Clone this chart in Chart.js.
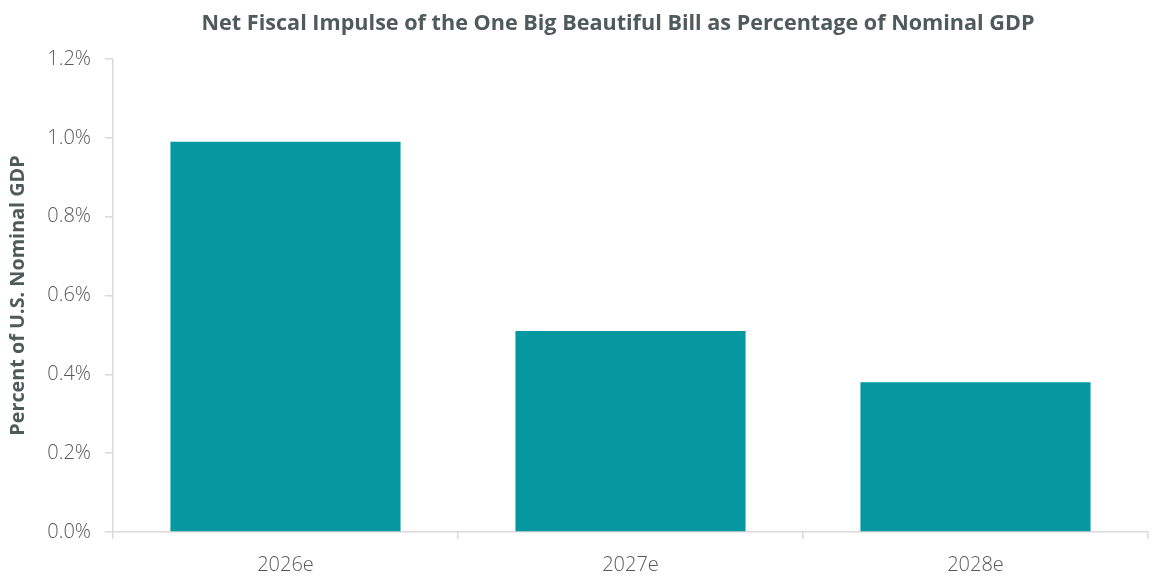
<!DOCTYPE html>
<html>
<head>
<meta charset="utf-8">
<script src="https://cdn.jsdelivr.net/npm/chart.js@4/dist/chart.umd.min.js"></script>
<style>
  html, body { margin: 0; padding: 0; background: #ffffff; }
  #wrap { width: 1152px; height: 577px; position: relative; }
</style>
</head>
<body>
<div id="wrap"><canvas id="c" width="1152" height="577"></canvas></div>
<script>
const categories = ["2026e", "2027e", "2028e"];
const impulseValues = [0.99, 0.51, 0.38];
const yTickValues = [0.0, 0.2, 0.4, 0.6, 0.8, 1.0, 1.2];
const chartTitle = "Net Fiscal Impulse of the One Big Beautiful Bill as Percentage of Nominal GDP";
const yAxisTitle = "Percent of U.S. Nominal GDP";

const axisColor = "#d9d9d9";
const textColor = "#595959";
const titleColor = "#4f5b5b";

const titlePlugin = {
  id: "customTitle",
  afterDraw(chart) {
    const ctx = chart.ctx;
    ctx.save();
    ctx.font = "bold 21.6px 'Open Sans'";
    ctx.fillStyle = titleColor;
    ctx.textAlign = "center";
    ctx.textBaseline = "middle";
    ctx.fillText(chartTitle, 618, 24);
    ctx.restore();
  }
};

new Chart(document.getElementById("c"), {
  type: "bar",
  data: {
    labels: categories,
    datasets: [{
      data: impulseValues,
      backgroundColor: "#0598a0",
      borderWidth: 0,
      categoryPercentage: 1.0,
      barPercentage: 0.667
    }]
  },
  options: {
    responsive: false,
    animation: false,
    devicePixelRatio: 1,
    layout: { padding: { top: 59, right: 4, left: 0, bottom: 0 } },
    plugins: {
      legend: { display: false },
      title: { display: false },
      tooltip: { enabled: false }
    },
    scales: {
      x: {
        grid: {
          offset: true,
          drawOnChartArea: false,
          drawTicks: true,
          tickLength: 7,
          color: axisColor,
          lineWidth: 1.5
        },
        border: { color: axisColor, width: 1.5 },
        ticks: {
          color: textColor,
          font: { family: "'Open Sans'", size: 20, weight: 300 },
          padding: 14
        },
        afterFit(scale) { scale.height = 45; }
      },
      y: {
        min: 0,
        max: 1.2,
        afterBuildTicks(scale) {
          scale.ticks = yTickValues.map(v => ({ value: v }));
        },
        grid: {
          drawOnChartArea: false,
          drawTicks: true,
          tickLength: 8,
          color: axisColor,
          lineWidth: 1.5
        },
        border: { color: axisColor, width: 1.5 },
        ticks: {
          color: textColor,
          font: { family: "'Open Sans'", size: 20, weight: 300 },
          padding: 14,
          callback: (v) => Number(v).toFixed(1) + "%"
        },
        title: {
          display: true,
          text: yAxisTitle,
          color: titleColor,
          font: { family: "'Open Sans'", size: 19.8, weight: "bold" },
          padding: { top: 6, bottom: 0 }
        },
        afterFit(scale) { scale.width = 113; }
      }
    }
  },
  plugins: [titlePlugin]
});
</script>
</body>
</html>
